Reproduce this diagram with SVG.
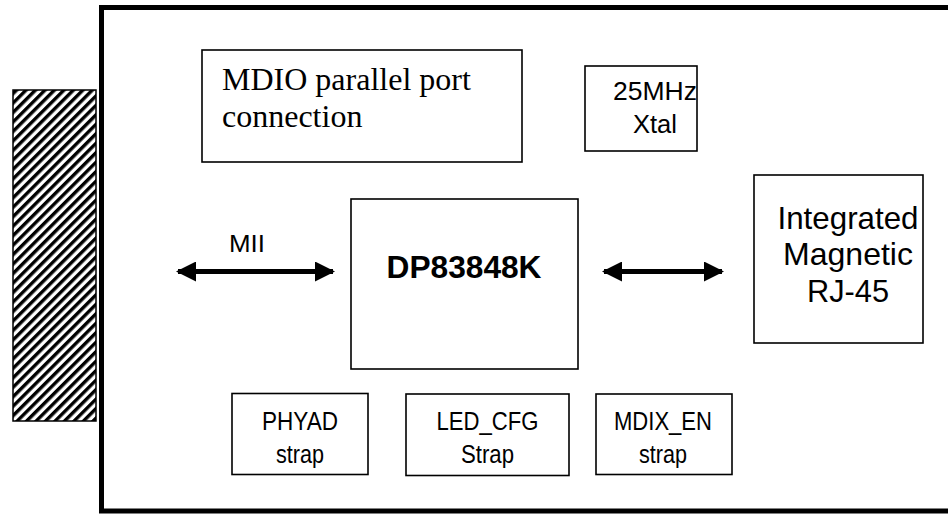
<svg xmlns="http://www.w3.org/2000/svg" width="948" height="514" viewBox="0 0 948 514">
<style>
.box{fill:#fff;stroke:#000;stroke-width:1.6}
.t{font-family:"Liberation Sans",Arial,sans-serif;fill:#000;text-anchor:middle}
.s{font-family:"Liberation Serif","Times New Roman",serif;fill:#000}
.conn{stroke:#000;stroke-width:5;fill:none}
</style>
<defs>
<pattern id="hatch" patternUnits="userSpaceOnUse" width="10" height="6.7" patternTransform="rotate(-45)">
<rect x="0" y="0" width="10" height="3.4" fill="#000"/>
</pattern>
<marker id="ah" viewBox="0 0 10 10" refX="9" refY="5" markerWidth="4" markerHeight="4" markerUnits="strokeWidth" orient="auto-start-reverse">
<path d="M0,0 L10,5 L0,10 Z" fill="#000"/>
</marker>
</defs>
<rect id="board" x="101.5" y="7.5" width="900" height="503.5" fill="none" stroke="#000" stroke-width="5"/>
<g id="connector-edge">
<rect x="13" y="90" width="83" height="331" fill="url(#hatch)" stroke="#000" stroke-width="1.5"/>
</g>
<g id="mdio">
<rect class="box" x="202" y="50" width="320" height="112"/>
<text class="s" x="222" y="90" font-size="32">MDIO parallel port</text>
<text class="s" x="222" y="127" font-size="32">connection</text>
</g>
<g id="xtal">
<rect class="box" x="585" y="66" width="112" height="85"/>
<text class="t" x="655" y="100" font-size="25" textLength="84" lengthAdjust="spacingAndGlyphs">25MHz</text>
<text class="t" x="655" y="133" font-size="25" textLength="44" lengthAdjust="spacingAndGlyphs">Xtal</text>
</g>
<g id="phy">
<rect class="box" x="351" y="199" width="227" height="170"/>
<text class="t" x="464" y="278" font-size="32" font-weight="bold" textLength="155" lengthAdjust="spacingAndGlyphs">DP83848K</text>
</g>
<g id="rj45">
<rect class="box" x="754" y="175" width="169" height="168"/>
<text class="t" x="848" y="229" font-size="32" textLength="141" lengthAdjust="spacingAndGlyphs">Integrated</text>
<text class="t" x="848" y="265" font-size="32" textLength="130" lengthAdjust="spacingAndGlyphs">Magnetic</text>
<text class="t" x="848" y="302" font-size="32" textLength="82" lengthAdjust="spacingAndGlyphs">RJ-45</text>
</g>
<g id="phyad">
<rect class="box" x="232" y="393.5" width="136" height="81"/>
<text class="t" x="300" y="429.5" font-size="25" textLength="76" lengthAdjust="spacingAndGlyphs">PHYAD</text>
<text class="t" x="300" y="462.5" font-size="25" textLength="48" lengthAdjust="spacingAndGlyphs">strap</text>
</g>
<g id="ledcfg">
<rect class="box" x="406" y="394" width="163" height="81.5"/>
<text class="t" x="487.5" y="429.5" font-size="25" textLength="102" lengthAdjust="spacingAndGlyphs">LED_CFG</text>
<text class="t" x="487.5" y="462.5" font-size="25" textLength="53" lengthAdjust="spacingAndGlyphs">Strap</text>
</g>
<g id="mdixen">
<rect class="box" x="596" y="394" width="136" height="80.5"/>
<text class="t" x="663" y="429.5" font-size="25" textLength="98" lengthAdjust="spacingAndGlyphs">MDIX_EN</text>
<text class="t" x="663" y="462.5" font-size="25" textLength="48" lengthAdjust="spacingAndGlyphs">strap</text>
</g>
<g id="connectors">
<line class="conn" x1="178" y1="271.5" x2="333" y2="271.5" marker-start="url(#ah)" marker-end="url(#ah)"/>
<line class="conn" x1="604" y1="271.5" x2="722" y2="271.5" marker-start="url(#ah)" marker-end="url(#ah)"/>
<text class="t" x="247" y="252" font-size="24" textLength="36" lengthAdjust="spacingAndGlyphs">MII</text>
</g>
</svg>
